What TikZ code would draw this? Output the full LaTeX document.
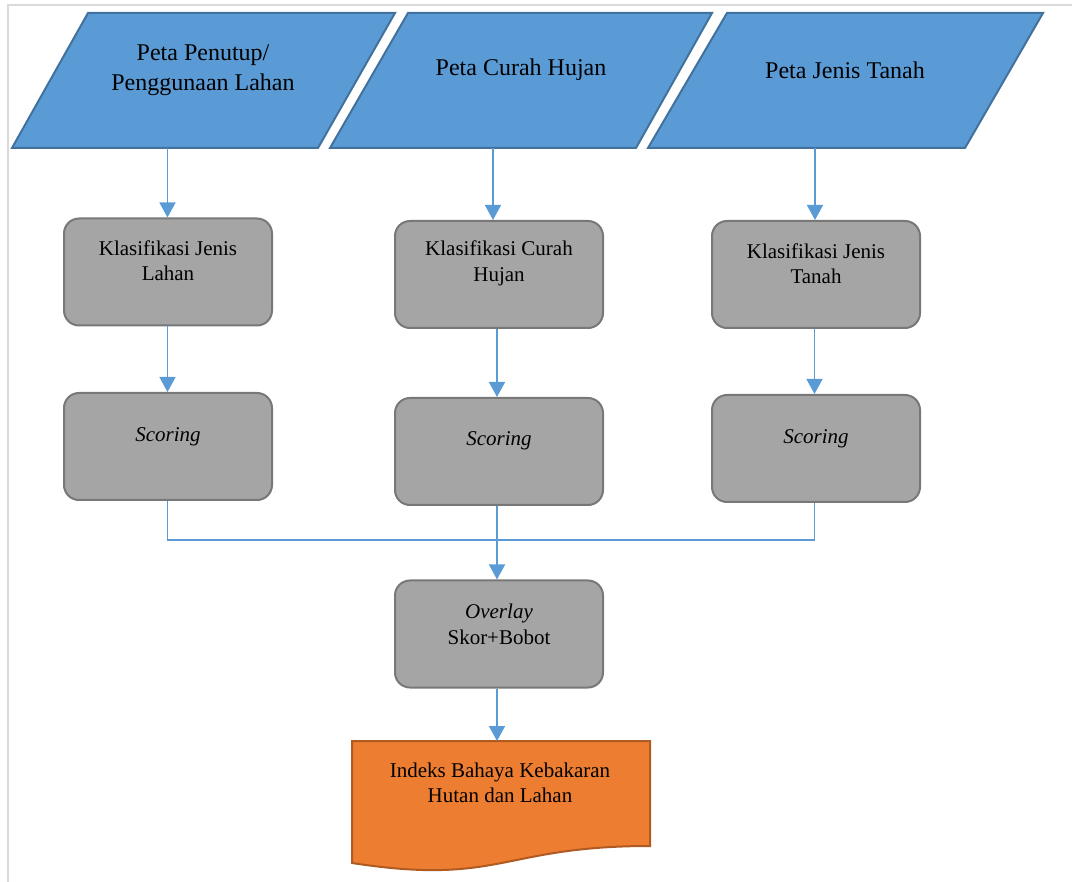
\documentclass[tikz,border=0pt]{standalone}
\usepackage{fontspec}
\setmainfont[Ligatures=NoCommon]{Liberation Serif}
\usetikzlibrary{arrows.meta}
\definecolor{pblue}{HTML}{5B9BD5}
\definecolor{pblueb}{HTML}{41719C}
\definecolor{gfill}{HTML}{A5A5A5}
\definecolor{gline}{HTML}{787878}
\definecolor{ofill}{HTML}{ED7D31}
\definecolor{oline}{HTML}{AE5A21}
\definecolor{frame}{HTML}{DADADA}
\tikzset{
  para/.style={draw=pblueb, fill=pblue, line width=2pt, line join=miter},
  gbox/.style={draw=gline, fill=gfill, line width=2pt, rounded corners=15pt,
    minimum width=208pt, minimum height=107pt, inner sep=0pt},
  ttl/.style={font=\fontsize{24}{30}\selectfont, align=center, inner sep=0pt},
  btxt/.style={font=\fontsize{21}{25.5}\selectfont, align=center, inner sep=0pt},
  conn/.style={draw=pblue, line width=1.5pt},
  arr/.style={conn, -{Triangle[width=16pt,length=15pt]}},
}
\begin{document}
\begin{tikzpicture}[x=1pt,y=-1pt]
\useasboundingbox (0,0) rectangle (1072,882);
% frame
\draw[frame, line width=2.5pt] (8,882) -- (8,5) -- (1072,5);
% input parallelograms
\draw[para] (88,13) -- (395,13) -- (318,148) -- (12,148) -- cycle;
\draw[para] (408,13) -- (712,13) -- (636,148) -- (330,148) -- cycle;
\draw[para] (727,13) -- (1043,13) -- (965,148) -- (648,148) -- cycle;
\node[ttl] (t1) at (203,70) {Peta Penutup/\\Penggunaan Lahan};
\node[ttl] (t2) at (521,70) {Peta Curah Hujan};
\node[ttl] (t3) at (845,70) {Peta Jenis Tanah};
\coordinate (p1) at (167.5,148);
\coordinate (p2) at (493,148);
\coordinate (p3) at (815,148);
% classification boxes
\node[gbox] (ka) at (168,272) {};
\node[gbox] (kb) at (499,274.5) {};
\node[gbox] (kc) at (816,274.5) {};
\node[btxt] at (168,260.5) {Klasifikasi Jenis\\Lahan};
\node[btxt] at (499,263.5) {Klasifikasi Curah\\Hujan};
\node[btxt] at (816,263.5) {Klasifikasi Jenis\\Tanah};
% scoring boxes
\node[gbox] (sa) at (168,446.5) {};
\node[gbox] (sb) at (499,451.5) {};
\node[gbox] (sc) at (816,448.5) {};
\node[btxt] at (168,437) {\itshape Scoring};
\node[btxt] at (499,441) {\itshape Scoring};
\node[btxt] at (816,439) {\itshape Scoring};
% overlay
\node[gbox] (ov) at (499,634) {};
\node[btxt] at (499,624.5) {\itshape Overlay\\Skor+Bobot};
% document
\draw[draw=oline, fill=ofill, line width=2pt]
  (352,741) -- (650,741) -- (650,846)
  .. controls (501,846) and (501,886) .. (352,863) -- cycle;
\node[btxt] (doc) at (500,783) {Indeks Bahaya Kebakaran\\Hutan dan Lahan};
\coordinate (dtop) at (497,741);
% connectors
\draw[arr] (p1) -- (p1 |- ka.north);
\draw[arr] (p2) -- (p2 |- kb.north);
\draw[arr] (p3) -- (p3 |- kc.north);
\coordinate (a1) at (167.5,0);
\coordinate (a2) at (497,0);
\coordinate (a3) at (814.5,0);
\draw[arr] (a1 |- ka.south) -- (a1 |- sa.north);
\draw[arr] (a2 |- kb.south) -- (a2 |- sb.north);
\draw[arr] (a3 |- kc.south) -- (a3 |- sc.north);
\coordinate (jn) at (497,540);
\draw[conn] (a1 |- sa.south) |- (jn) -| (a3 |- sc.south);
\draw[arr] (a2 |- sb.south) -- (a2 |- ov.north);
\draw[arr] (a2 |- ov.south) -- (dtop);
\end{tikzpicture}
\end{document}
